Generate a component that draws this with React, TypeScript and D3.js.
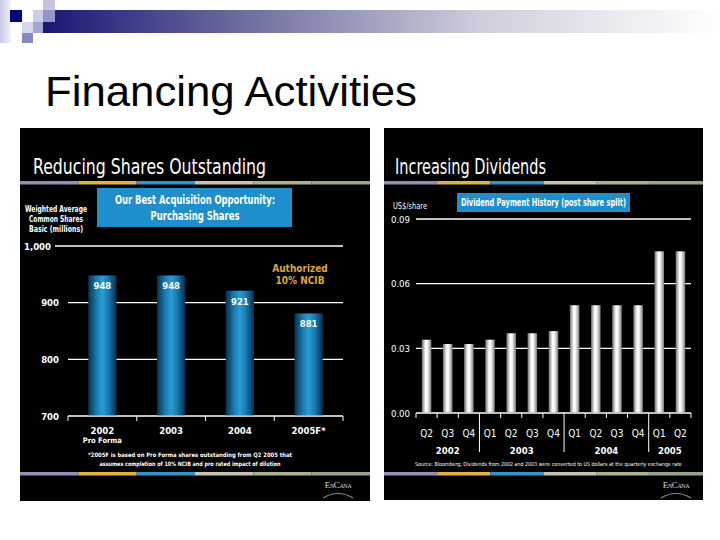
import React from "react";
import * as d3 from "d3";

const shareYears = ["2002", "2003", "2004", "2005F*"];
const shareSubLabels = ["Pro Forma", "", "", ""];
const shareValues = [948, 948, 921, 881];
const shareTicks = [700, 800, 900, 1000];

const quarters = ["Q2", "Q3", "Q4", "Q1", "Q2", "Q3", "Q4", "Q1", "Q2", "Q3", "Q4", "Q1", "Q2"];
const quarterYears = ["2002", "2002", "2002", "2003", "2003", "2003", "2003", "2004", "2004", "2004", "2004", "2005", "2005"];
const dividends = [0.034, 0.032, 0.032, 0.034, 0.037, 0.037, 0.038, 0.05, 0.05, 0.05, 0.05, 0.075, 0.075];
const divTicks = [0, 0.03, 0.06, 0.09];

const stripeColors = ["#9390b4", "#e2b142", "#2f93cc", "#cbc2b2", "#a6b48c", "#96a48e"];

const COND = "'Liberation Sans Narrow','DejaVu Sans Condensed','Roboto Condensed','Liberation Sans',Arial,sans-serif";
const SANS = "'Liberation Sans',Arial,Helvetica,sans-serif";

function Stripe({ x0, x1, y }: { x0: number; x1: number; y: number }) {
  const s = d3.scaleBand<number>().domain(d3.range(stripeColors.length)).range([x0, x1]);
  return (
    <g>
      {stripeColors.map((c, i) => (
        <rect key={i} x={s(i)} y={y} width={s.bandwidth()} height={3.5} fill={c} />
      ))}
    </g>
  );
}

function Logo({ x, y }: { x: number; y: number }) {
  return (
    <g>
      <text x={x} y={y} textAnchor="middle" fontFamily="'Liberation Serif','DejaVu Serif',serif" fontSize={9} fill="#d8d8d8" style={{ fontVariant: "small-caps" }} letterSpacing={-0.4}>
        EnCana
      </text>
      <path d={`M${x - 15},${y + 10} Q${x},${y + 1} ${x + 15},${y + 10}`} stroke="#aaa" strokeWidth={1.2} fill="none" opacity={0.8} />
    </g>
  );
}

function LeftPanel() {
  const y = d3.scaleLinear().domain([700, 1000]).range([416, 246]);
  const x = d3.scaleBand<string>().domain(shareYears).range([68, 343]).paddingInner(0.59).paddingOuter(0.295);
  const step = x.step();
  const boundaries = d3.range(shareYears.length + 1).map((i) => 68 + i * step);
  const fmt = d3.format(",");
  return (
    <g>
      <rect x={20} y={128} width={350} height={373} fill="#000" />
      <text x={33} y={174} fontFamily={COND} fontSize={22} fill="#fff" textLength={233} lengthAdjust="spacingAndGlyphs">
        Reducing Shares Outstanding
      </text>
      <Stripe x0={20} x1={370} y={181} />
      <rect x={97} y={188} width={195} height={39} fill="#1f8fcb" />
      <text x={195} y={204} textAnchor="middle" fontFamily={COND} fontWeight="bold" fontSize={12} fill="#fff" textLength={160} lengthAdjust="spacingAndGlyphs">
        Our Best Acquisition Opportunity:
      </text>
      <text x={195} y={220} textAnchor="middle" fontFamily={COND} fontWeight="bold" fontSize={12} fill="#fff" textLength={89} lengthAdjust="spacingAndGlyphs">
        Purchasing Shares
      </text>
      {["Weighted Average", "Common Shares", "Basic (millions)"].map((t, i) => (
        <text key={i} x={56} y={212 + i * 10} textAnchor="middle" fontFamily={COND} fontWeight="bold" fontSize={8.5} fill="#fff" textLength={i === 0 ? 62 : 54} lengthAdjust="spacingAndGlyphs">
          {t}
        </text>
      ))}
      {shareTicks.map((t) => (
        <g key={t}>
          <line x1={t === 1000 ? 55 : 68} x2={343} y1={y(t)} y2={y(t)} stroke="#fff" strokeWidth={1.3} />
          <text x={t === 1000 ? 51 : 59} y={y(t) + 3.5} textAnchor="end" fontFamily={COND} fontWeight="bold" fontSize={9.5} fill="#fff">
            {fmt(t)}
          </text>
        </g>
      ))}
      {boundaries.map((b, i) => (
        <line key={i} x1={b} x2={b} y1={416} y2={421} stroke="#fff" strokeWidth={1} />
      ))}
      {shareValues.map((v, i) => (
        <g key={i}>
          <rect x={x(shareYears[i])} y={y(v)} width={x.bandwidth()} height={y(700) - y(v) - 0.7} fill="url(#blueBar)" />
          <text x={(x(shareYears[i]) as number) + x.bandwidth() / 2} y={y(v) + 14} textAnchor="middle" fontFamily={COND} fontWeight="bold" fontSize={9.5} fill="#fff">
            {v}
          </text>
          <text x={(x(shareYears[i]) as number) + x.bandwidth() / 2} y={434} textAnchor="middle" fontFamily={COND} fontWeight="bold" fontSize={9.5} fill="#fff">
            {shareYears[i]}
          </text>
          {shareSubLabels[i] && (
            <text x={(x(shareYears[i]) as number) + x.bandwidth() / 2} y={443} textAnchor="middle" fontFamily={COND} fontWeight="bold" fontSize={7.5} fill="#fff">
              {shareSubLabels[i]}
            </text>
          )}
        </g>
      ))}
      <text x={300} y={272} textAnchor="middle" fontFamily={COND} fontWeight="bold" fontSize={10} fill="#d9a640">
        Authorized
      </text>
      <text x={300} y={284} textAnchor="middle" fontFamily={COND} fontWeight="bold" fontSize={10} fill="#d9a640">
        10% NCIB
      </text>
      <text x={190} y={457} textAnchor="middle" fontFamily={COND} fontWeight="bold" fontSize={6} fill="#fff" textLength={204} lengthAdjust="spacingAndGlyphs">
        *2005F is based on Pro Forma shares outstanding from Q2 2005 that
      </text>
      <text x={190} y={466} textAnchor="middle" fontFamily={COND} fontWeight="bold" fontSize={6} fill="#fff" textLength={181} lengthAdjust="spacingAndGlyphs">
        assumes completion of 10% NCIB and pro rated impact of dilution
      </text>
      <Stripe x0={20} x1={370} y={472} />
      <Logo x={338} y={488} />
    </g>
  );
}

function RightPanel() {
  const y = d3.scaleLinear().domain([0, 0.09]).range([413, 219]);
  const idx = d3.range(quarters.length);
  const x = d3.scaleBand<number>().domain(idx).range([416, 691]).paddingInner(0.55).paddingOuter(0.275);
  const step = x.step();
  const boundaries = d3.range(quarters.length + 1).map((i) => 416 + i * step);
  const years = Array.from(new Set(quarterYears));
  const fmt = d3.format(".2f");
  return (
    <g>
      <rect x={384} y={128} width={319} height={372} fill="#000" />
      <text x={395} y={174} fontFamily={COND} fontSize={22} fill="#fff" textLength={151} lengthAdjust="spacingAndGlyphs">
        Increasing Dividends
      </text>
      <Stripe x0={384} x1={703} y={181} />
      <rect x={457} y={193} width={173} height={19} fill="#1f8fcb" />
      <text x={543.5} y={206} textAnchor="middle" fontFamily={COND} fontWeight="bold" fontSize={10} fill="#fff" textLength={165} lengthAdjust="spacingAndGlyphs">
        Dividend Payment History (post share split)
      </text>
      <text x={393} y={209} fontFamily={COND} fontSize={9} fill="#fff" textLength={34} lengthAdjust="spacingAndGlyphs">
        US$/share
      </text>
      {divTicks.map((t) => (
        <g key={t}>
          <line x1={416} x2={691} y1={y(t)} y2={y(t)} stroke="#fff" strokeWidth={1.3} />
          <text x={410} y={y(t) + 3.5} textAnchor="end" fontFamily={COND} fontSize={9.5} fill="#fff">
            {fmt(t)}
          </text>
        </g>
      ))}
      {boundaries.map((b, i) => {
        const sep = i > 0 && i < quarters.length && quarterYears[i] !== quarterYears[i - 1];
        return <line key={i} x1={b} x2={b} y1={413} y2={sep ? 452 : 418} stroke="#fff" strokeWidth={1} />;
      })}
      {dividends.map((v, i) => (
        <g key={i}>
          <rect x={x(i)} y={y(v)} width={x.bandwidth()} height={y(0) - y(v) - 0.7} fill="url(#silverBar)" />
          <text x={(x(i) as number) + x.bandwidth() / 2} y={437} textAnchor="middle" fontFamily={COND} fontSize={10} fill="#fff">
            {quarters[i]}
          </text>
        </g>
      ))}
      {years.map((yr) => {
        const ids = idx.filter((i) => quarterYears[i] === yr);
        const cx = ((x(ids[0]) as number) + (x(ids[ids.length - 1]) as number) + x.bandwidth()) / 2;
        return (
          <text key={yr} x={cx} y={454} textAnchor="middle" fontFamily={COND} fontWeight="bold" fontSize={9.5} fill="#fff">
            {yr}
          </text>
        );
      })}
      <text x={415} y={466} fontFamily={COND} fontSize={5.5} fill="#fff" textLength={267} lengthAdjust="spacingAndGlyphs">
        Source:  Bloomberg; Dividends from 2002 and 2003 were converted to US dollars at the quarterly exchange rate
      </text>
      <Stripe x0={384} x1={703} y={472} />
      <Logo x={676} y={488} />
    </g>
  );
}

export default function App() {
  return (
    <svg width={720} height={540} style={{ position: "absolute", left: 0, top: 0, display: "block" }}>
      <defs>
        <linearGradient id="blueBar" x1="0" x2="1" y1="0" y2="0">
          <stop offset="0" stopColor="#08304f" />
          <stop offset="0.3" stopColor="#1a7db3" />
          <stop offset="0.5" stopColor="#2a9bd4" />
          <stop offset="0.7" stopColor="#1a7db3" />
          <stop offset="1" stopColor="#08304f" />
        </linearGradient>
        <linearGradient id="silverBar" x1="0" x2="1" y1="0" y2="0">
          <stop offset="0" stopColor="#707070" />
          <stop offset="0.4" stopColor="#ffffff" />
          <stop offset="0.6" stopColor="#f4f4f4" />
          <stop offset="1" stopColor="#7a7a7a" />
        </linearGradient>
        <linearGradient id="headerBar" x1="0" x2="1" y1="0" y2="0">
          <stop offset="0" stopColor="#181874" />
          <stop offset="0.3" stopColor="#6e6ea0" />
          <stop offset="0.65" stopColor="#cfcfdc" />
          <stop offset="1" stopColor="#ffffff" />
        </linearGradient>
        <linearGradient id="leftCol" x1="0" x2="1" y1="0" y2="0">
          <stop offset="0" stopColor="#c8c8e8" />
          <stop offset="1" stopColor="#f4f4fc" />
        </linearGradient>
      </defs>
      <rect x={0} y={0} width={720} height={540} fill="#fff" />
      <rect x={43} y={10} width={677} height={23} fill="url(#headerBar)" />
      <rect x={0} y={0} width={11} height={43} fill="url(#leftCol)" />
      <rect x={10} y={10} width={12} height={12} fill="#00007a" />
      <rect x={33} y={10} width={10} height={12} fill="#cdcdea" />
      <rect x={43} y={0} width={12} height={10} fill="#c4c4e2" />
      <rect x={43} y={10} width={12} height={12} fill="#9595cc" />
      <rect x={22} y={22} width={11} height={11} fill="#d6d6f0" />
      <rect x={33} y={22} width={10} height={11} fill="#a4a4d4" />
      <rect x={22} y={33} width={11} height={10} fill="#8888c0" />
      <text x={45} y={106} fontFamily={SANS} fontSize={43} fill="#000" textLength={372} lengthAdjust="spacingAndGlyphs">
        Financing Activities
      </text>
      <LeftPanel />
      <RightPanel />
    </svg>
  );
}
